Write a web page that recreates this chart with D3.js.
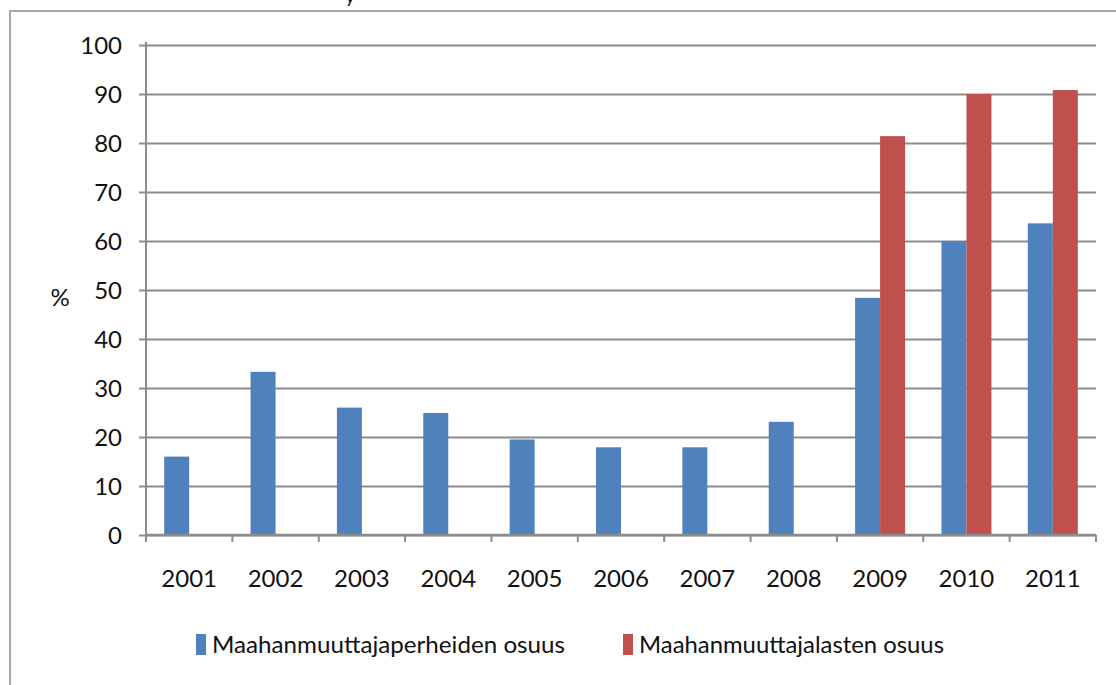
<!DOCTYPE html>
<html>
<head>
<meta charset="utf-8">
<script src="https://cdn.jsdelivr.net/npm/d3@7"></script>
<style>
  body { margin: 0; background: #fff; }
  text { font-family: "Lato", sans-serif; fill: #111; }
</style>
</head>
<body>
<div id="chart"></div>
<script>
// data
var years = ["2001", "2002", "2003", "2004", "2005", "2006", "2007", "2008", "2009", "2010", "2011"];
var perheet = [16.0, 33.3, 26.0, 24.9, 19.5, 17.9, 17.9, 23.1, 48.4, 60.0, 63.6];
var lapset = [null, null, null, null, null, null, null, null, 81.4, 90.0, 90.8];
var seriesNames = ["Maahanmuuttajaperheiden osuus", "Maahanmuuttajalasten osuus"];
var colors = ["#4F81BD", "#C0504D"];
var yTicks = [0, 10, 20, 30, 40, 50, 60, 70, 80, 90, 100];

var width = 1116, height = 685;
var plotLeft = 146, plotRight = 1096, plotTop = 45, plotBottom = 535;

var svg = d3.select("#chart").append("svg")
  .attr("width", width)
  .attr("height", height);

// outer frame (only top and left edges are visible)
svg.append("path")
  .attr("d", "M10," + height + "V11H" + width)
  .attr("fill", "none")
  .attr("stroke", "#a6a6a6")
  .attr("stroke-width", 2);

// clipped fragment of a title above the picture
svg.append("text").attr("x", 345).attr("y", 3).style("font-size", "20px").text("y");

var x = d3.scaleBand().domain(years).range([plotLeft, plotRight]);
var inner = d3.scaleBand().domain([0, 1]).range([0, 50]);
var y = d3.scaleLinear().domain([0, 100]).range([plotBottom, plotTop]);

// gridlines + y ticks
var yAxis = svg.append("g")
  .attr("transform", "translate(" + plotLeft + ",0)")
  .call(d3.axisLeft(y).tickValues(yTicks).tickSize(-(plotRight - plotLeft)).tickPadding(22).tickFormat(d3.format("d")));
yAxis.select(".domain").remove();
yAxis.selectAll(".tick line")
  .attr("x1", -7)
  .attr("stroke", "#8c8c8c")
  .attr("stroke-width", 2);
yAxis.selectAll(".tick text")
  .attr("x", -24)
  .style("font-size", "24px")
  .attr("fill", "#111")
  .attr("dy", "0.36em");

// bars
var rows = years.map(function (yr, i) {
  return { year: yr, values: [perheet[i], lapset[i]] };
});
var groups = svg.append("g").selectAll("g")
  .data(rows)
  .join("g")
  .attr("transform", function (d) { return "translate(" + (x(d.year) + x.bandwidth() / 2 - 25) + ",0)"; });
groups.selectAll("rect")
  .data(function (d) { return d.values.map(function (v, k) { return { k: k, v: v }; }).filter(function (e) { return e.v != null; }); })
  .join("rect")
  .attr("x", function (d) { return inner(d.k); })
  .attr("width", inner.bandwidth())
  .attr("y", function (d) { return y(d.v); })
  .attr("height", function (d) { return y(0) - y(d.v); })
  .attr("fill", function (d) { return colors[d.k]; });

// y axis line
svg.append("line")
  .attr("x1", plotLeft).attr("x2", plotLeft)
  .attr("y1", plotTop - 3).attr("y2", plotBottom + 6)
  .attr("stroke", "#8c8c8c").attr("stroke-width", 2);

// x axis with category boundary ticks
var xAxis = svg.append("g").attr("transform", "translate(0," + plotBottom + ")");
xAxis.append("line")
  .attr("x1", plotLeft).attr("x2", plotRight)
  .attr("stroke", "#8c8c8c").attr("stroke-width", 2.5);
var bounds = years.map(function (d) { return x(d); }).concat([plotRight]);
xAxis.selectAll(".bt")
  .data(bounds)
  .join("line")
  .attr("x1", function (d) { return d; }).attr("x2", function (d) { return d; })
  .attr("y1", 0).attr("y2", 7)
  .attr("stroke", "#8c8c8c").attr("stroke-width", 2);
xAxis.selectAll(".lbl")
  .data(years)
  .join("text")
  .attr("x", function (d) { return x(d) + x.bandwidth() / 2; })
  .attr("y", 52)
  .attr("text-anchor", "middle")
  .style("font-size", "24px")
  .text(function (d) { return d; });

// y axis title
svg.append("text")
  .attr("x", 60).attr("y", 306)
  .attr("text-anchor", "middle")
  .style("font-size", "24px")
  .text("%");

// legend
var legendX = [196, 623];
var legendW = [353, 305];
var legend = svg.append("g").selectAll("g")
  .data(seriesNames)
  .join("g")
  .attr("transform", function (d, i) { return "translate(" + legendX[i] + ",634)"; });
legend.append("rect")
  .attr("width", 10).attr("height", 21)
  .attr("fill", function (d, i) { return colors[i]; });
legend.append("text")
  .attr("x", 16).attr("y", 19)
  .style("font-size", "24px")
  .attr("textLength", function (d, i) { return legendW[i]; })
  .attr("lengthAdjust", "spacingAndGlyphs")
  .text(function (d) { return d; });
</script>
</body>
</html>
